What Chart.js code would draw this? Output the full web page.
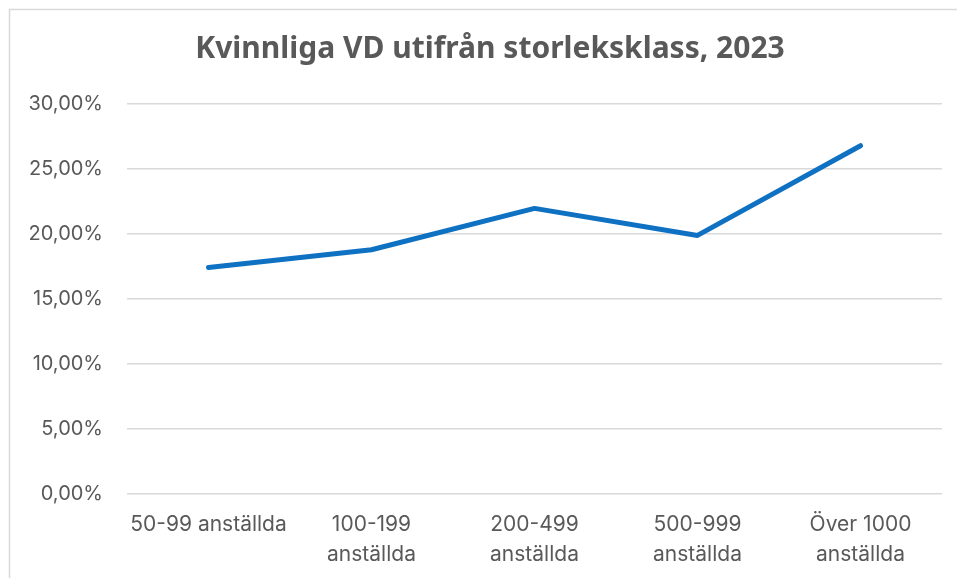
<!DOCTYPE html>
<html>
<head>
<meta charset="utf-8">
<script src="https://cdn.jsdelivr.net/npm/chart.js@4.4.1/dist/chart.umd.min.js"></script>
<style>
  html, body { margin: 0; padding: 0; background: #fff; }
  #wrap { position: relative; width: 957px; height: 578px; }
</style>
</head>
<body>
<div id="wrap"><canvas id="c" width="957" height="578"></canvas></div>
<script>
const categories = [["50-99 anställda"], ["100-199", "anställda"], ["200-499", "anställda"], ["500-999", "anställda"], ["Över 1000", "anställda"]];
const shareWomenCEO = [17.43, 18.79, 21.97, 19.89, 26.79];
const titleText = "Kvinnliga VD utifrån storleksklass, 2023";

const framePlugin = {
  id: 'frame',
  beforeDraw(chart) {
    const ctx = chart.ctx;
    ctx.save();
    ctx.fillStyle = '#ffffff';
    ctx.fillRect(0, 0, chart.width, chart.height);
    ctx.strokeStyle = '#d9d9d9';
    ctx.lineWidth = 1.5;
    ctx.strokeRect(9.5, 9.5, 1000, 1000);
    ctx.fillStyle = '#595959';
    ctx.font = "bold 30px 'Noto Sans', sans-serif";
    ctx.textAlign = 'center';
    ctx.textBaseline = 'middle';
    ctx.fillText(titleText, 490, 49);
    ctx.restore();
  }
};

new Chart(document.getElementById('c'), {
  type: 'line',
  data: {
    labels: categories,
    datasets: [{
      data: shareWomenCEO,
      borderColor: '#0f71c2',
      borderWidth: 5,
      borderCapStyle: 'round',
      borderJoinStyle: 'round',
      pointRadius: 0,
      tension: 0,
      fill: false
    }]
  },
  options: {
    responsive: false,
    animation: false,
    layout: { padding: { top: 104, right: 15, bottom: 0, left: 0 } },
    plugins: {
      legend: { display: false },
      tooltip: { enabled: false },
      title: { display: false }
    },
    scales: {
      x: {
        offset: true,
        grid: { display: false },
        border: { display: false },
        ticks: {
          color: '#595959',
          font: { family: "Inter, sans-serif", size: 21, lineHeight: 1.45 },
          maxRotation: 0,
          autoSkip: false,
          padding: 7
        },
        afterFit(scale) { scale.height = 84; }
      },
      y: {
        min: 0,
        max: 30,
        grid: { color: '#d9d9d9', lineWidth: 1.5, drawTicks: false },
        border: { display: false },
        ticks: {
          stepSize: 5,
          color: '#595959',
          font: { family: "Inter, sans-serif", size: 20 },
          padding: 24,
          callback: (v) => v.toFixed(2).replace('.', ',') + '%'
        },
        afterFit(scale) { scale.width = 127; }
      }
    }
  },
  plugins: [framePlugin]
});
</script>
</body>
</html>
